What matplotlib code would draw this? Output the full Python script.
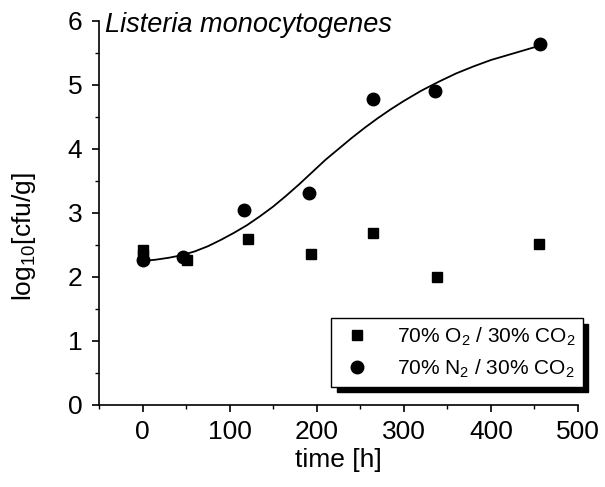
import matplotlib
matplotlib.use('Agg')
import matplotlib.pyplot as plt
from matplotlib.ticker import MultipleLocator

plt.rcParams['font.family'] = ['Liberation Sans', 'DejaVu Sans']
plt.rcParams['mathtext.fontset'] = 'custom'
plt.rcParams['mathtext.rm'] = 'Liberation Sans'
plt.rcParams['mathtext.it'] = 'Liberation Sans:italic'

# 70% O2 / 30% CO2 (squares)
o2_time = [0, 0, 51, 121, 193, 265, 338, 455]
o2_log = [2.42, 2.34, 2.27, 2.60, 2.36, 2.69, 2.00, 2.52]

# 70% N2 / 30% CO2 (circles)
n2_time = [0, 46, 117, 191, 265, 336, 456]
n2_log = [2.26, 2.31, 3.04, 3.31, 4.78, 4.90, 5.64]

# fitted growth curve
fit_time = [0, 15, 30, 45, 60, 75, 90, 105, 120, 135, 150, 165, 180, 195,
            210, 225, 240, 255, 270, 285, 300, 320, 340, 360, 380, 400,
            420, 440, 455]
fit_log = [2.25, 2.27, 2.30, 2.34, 2.40, 2.48, 2.58, 2.69, 2.81, 2.95, 3.10,
           3.27, 3.45, 3.64, 3.83, 4.00, 4.17, 4.33, 4.48, 4.62, 4.75, 4.91,
           5.05, 5.18, 5.29, 5.39, 5.47, 5.55, 5.61]

fig = plt.figure(figsize=(6.05, 4.87), dpi=100)
ax = fig.add_axes([0.1636, 0.1684, 0.7917, 0.7885])

ax.plot(fit_time, fit_log, color='black', linewidth=1.3, zorder=2)
ax.plot(o2_time, o2_log, 's', color='black', markersize=7.5, linestyle='none',
        label='70% O$_2$ / 30% CO$_2$', zorder=3)
ax.plot(n2_time, n2_log, 'o', color='black', markersize=9, linestyle='none',
        label='70% N$_2$ / 30% CO$_2$', zorder=3)

ax.set_xlim(-50, 500)
ax.set_ylim(0, 6)
ax.xaxis.set_major_locator(MultipleLocator(100))
ax.xaxis.set_minor_locator(MultipleLocator(50))
ax.yaxis.set_major_locator(MultipleLocator(1))
ax.yaxis.set_minor_locator(MultipleLocator(0.5))
ax.spines['top'].set_visible(False)
ax.spines['right'].set_visible(False)
for s in ['left', 'bottom']:
    ax.spines[s].set_linewidth(1.2)
ax.tick_params(which='major', direction='out', length=5, width=1.2, labelsize=19)
ax.tick_params(axis='x', which='major', pad=6)
ax.tick_params(axis='y', which='major', pad=7)
ax.tick_params(which='minor', direction='out', length=3, width=1.0)

ax.set_xlabel('time [h]', fontsize=19, labelpad=3)
ax.set_ylabel('log$_{10}$[cfu/g]', fontsize=19)
ax.yaxis.set_label_coords(-0.127, 0.4375)
ax.text(-43, 5.94, 'Listeria monocytogenes', fontsize=19.5, style='italic',
        va='center', ha='left')

leg = ax.legend(loc='lower right', bbox_to_anchor=(1.01, 0.047), fontsize=15,
                fancybox=False, frameon=True, borderpad=0.35, handletextpad=1.0,
                labelspacing=0.45, borderaxespad=0, handlelength=1.8,
                shadow={'ox': 4, 'oy': -4, 'color': 'black', 'alpha': 1})
leg.get_frame().set_edgecolor('black')
leg.get_frame().set_linewidth(1.0)

fig.savefig('out.png', dpi=100)
